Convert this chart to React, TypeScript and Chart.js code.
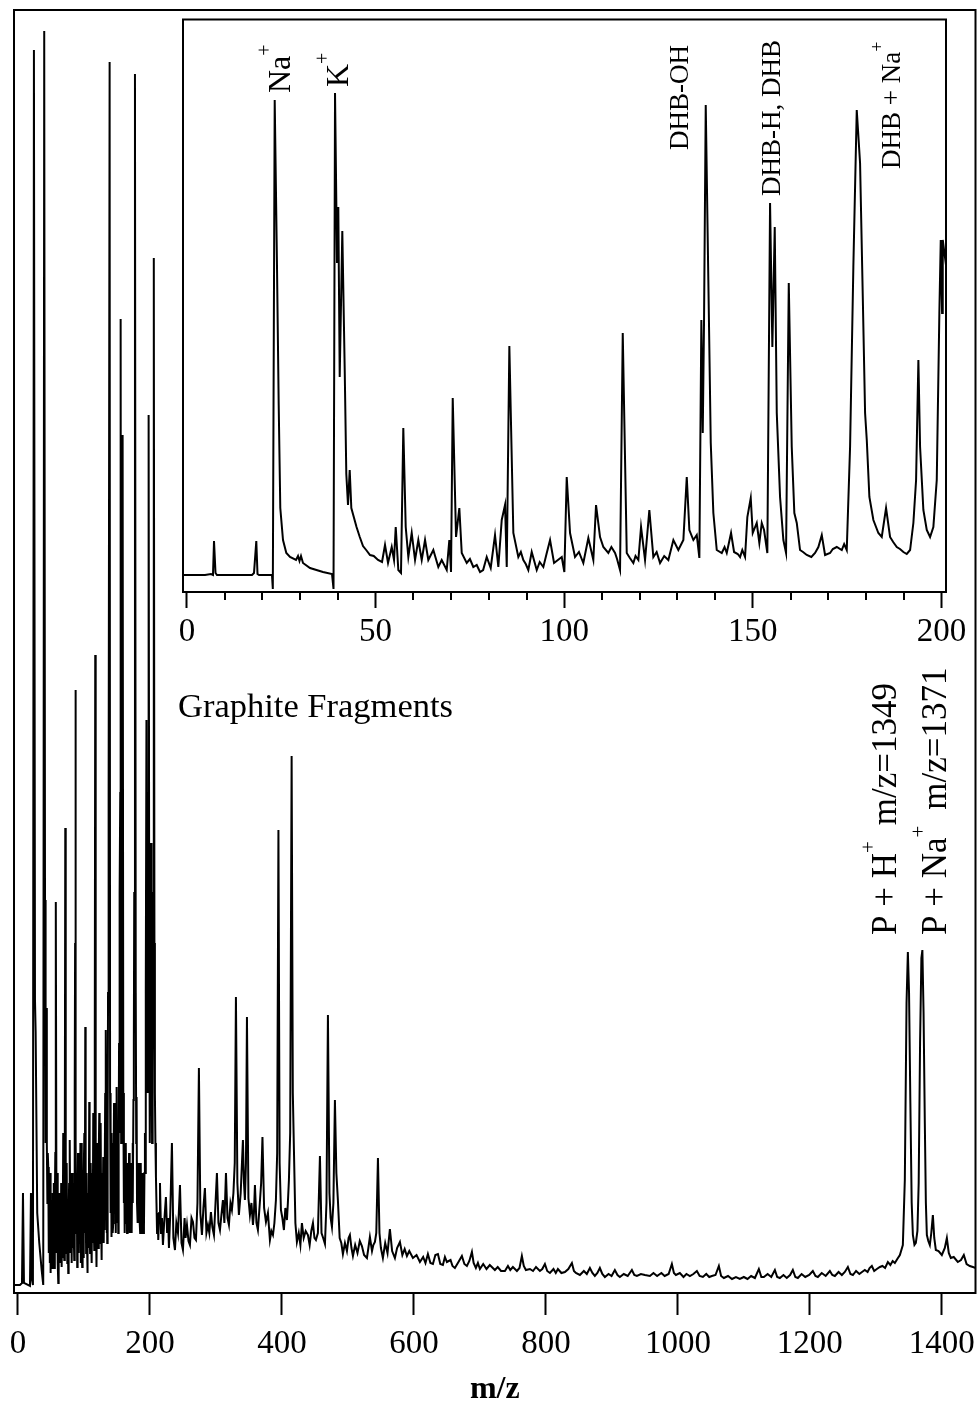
import React, { useEffect, useRef } from "react";
import { Chart, registerables } from "chart.js";

Chart.register(...registerables);

const SERIF = '"Liberation Serif", "Times New Roman", serif';

type Pt = [number, number]; // [m/z, intensity (a.u.)]

// ---------- Main spectrum ----------
const mainLowMass: Pt[] = [
  [-6, 8], [3.0, 8], [6.1, 10], [7.6, 100], [9.1, 10], [18.2, 7], [19.7, 100], [21.2, 13],
  [22.7, 8], [24.2, 1243], [25.8, 293], [26.8, 261], [29.2, 80], [32.3, 50], [35.9, 23],
  [38.3, 8], [39.8, 1262],
];
const mainMatrixRegion: Pt[] = [
  [41.0, 393], [41.6, 250], [42.2, 150], [42.8, 220], [43.5, 285], [44.0, 150], [44.6, 90],
  [45.2, 140], [45.9, 126], [46.4, 50], [47.0, 40], [47.6, 110], [48.1, 30], [48.5, 60],
  [49.0, 120], [49.5, 20], [50.1, 80], [50.6, 35], [51.1, 93], [51.7, 25], [52.3, 30],
  [52.9, 100], [53.5, 26], [54.0, 70], [54.6, 110], [55.1, 25], [55.6, 30], [56.1, 90],
  [56.6, 140], [57.1, 200], [57.6, 391], [58.2, 120], [58.8, 40], [59.4, 100], [60.0, 120],
  [60.5, 30], [61.1, 10], [61.7, 90], [62.3, 80], [62.9, 30], [63.6, 100], [64.2, 40],
  [64.8, 30], [65.5, 110], [66.2, 26], [66.8, 60], [67.4, 90], [68.0, 35], [68.6, 160],
  [69.4, 45], [70.2, 33], [71.0, 150], [71.7, 465], [72.2, 140], [72.6, 90], [73.0, 40],
  [73.5, 93], [74.1, 130], [74.8, 30], [75.5, 80], [76.2, 20], [76.8, 70], [77.5, 110],
  [78.1, 40], [78.8, 153], [79.4, 50], [80.1, 40], [80.7, 120], [81.4, 30], [82.0, 90],
  [82.6, 120], [83.2, 45], [83.8, 110], [84.5, 60], [85.3, 33], [85.8, 90], [86.2, 200],
  [86.6, 350], [87.1, 603], [87.7, 150], [88.4, 60], [89.1, 120], [89.8, 26], [90.4, 80],
  [91.0, 140], [91.7, 50], [92.3, 40], [93.1, 130], [93.9, 73], [94.6, 150], [95.3, 30],
  [95.8, 80], [96.4, 150], [96.9, 45], [97.3, 26], [97.8, 90], [98.2, 110], [98.8, 40],
  [99.3, 35], [100.0, 120], [100.6, 160], [101.3, 60], [102.0, 266], [102.6, 90], [103.3, 40],
  [103.8, 100], [104.3, 120], [104.7, 50], [105.1, 20], [105.8, 100], [106.5, 90], [107.2, 45],
  [108.0, 191], [108.6, 70], [109.3, 40], [109.9, 110], [110.5, 130], [111.1, 50], [111.7, 30],
  [112.4, 120], [113.0, 90], [113.6, 50], [114.1, 180], [114.8, 70], [115.6, 43], [116.4, 250],
  [117.1, 638], [117.8, 150], [118.4, 60], [118.8, 90], [119.2, 26], [119.9, 100], [120.5, 150],
  [121.2, 60], [121.8, 45], [122.5, 140], [123.2, 180], [123.8, 70], [124.4, 50], [125.0, 130],
  [125.6, 170], [126.2, 60], [126.8, 33], [127.4, 120], [128.0, 110], [128.6, 55], [129.2, 136],
  [129.7, 70], [130.2, 50], [130.7, 120], [131.1, 63], [131.7, 110], [132.2, 200], [132.8, 90],
  [133.3, 263], [133.9, 120], [134.4, 60], [134.9, 130], [135.3, 50], [135.9, 150], [136.5, 300],
  [137.4, 500], [138.9, 1231], [139.6, 200], [140.2, 80], [140.6, 120], [141.0, 160],
  [141.5, 70], [142.0, 56], [142.6, 130], [143.2, 150], [143.8, 60], [144.4, 70], [145.0, 140],
  [145.6, 190], [146.3, 80], [147.0, 113], [147.6, 150], [148.2, 60], [148.9, 130], [149.5, 206],
  [150.1, 90], [150.8, 70], [151.4, 140], [152.0, 60], [152.6, 150], [153.2, 250], [153.8, 160],
  [154.3, 400], [155.0, 500], [155.6, 974], [156.4, 150], [157.1, 293], [157.8, 200],
  [158.6, 858], [159.6, 200], [160.5, 90], [160.9, 150], [161.3, 140], [161.7, 80], [162.1, 60],
  [162.8, 120], [163.4, 150], [164.0, 70], [164.7, 116], [165.3, 60], [165.9, 70], [166.5, 130],
  [167.1, 66], [167.8, 110], [168.4, 140], [169.0, 80], [169.6, 60], [170.3, 130], [171.0, 120],
  [171.6, 70], [172.3, 60], [172.9, 110], [173.6, 150], [174.3, 90], [175.0, 193], [175.6, 250],
  [176.2, 400], [177.3, 1219], [178.5, 300], [179.2, 150], [179.8, 196], [180.4, 90],
  [181.0, 120], [181.7, 70], [182.3, 80], [183.0, 130], [183.8, 103], [184.5, 70], [185.2, 60],
  [185.8, 110], [186.3, 130], [186.9, 60], [187.4, 73], [188.2, 120], [189.0, 110], [190.0, 60],
  [190.9, 66], [191.7, 120], [192.4, 160], [193.0, 120], [193.7, 300], [194.7, 573], [195.6, 250],
  [196.2, 293], [196.7, 200], [197.2, 500], [198.0, 878], [199.0, 300], [199.5, 200],
  [200.0, 150], [200.8, 243], [201.3, 200], [201.7, 450], [202.2, 250], [202.6, 393],
  [203.2, 150], [203.8, 193], [204.4, 220], [205.0, 400], [205.6, 500], [206.1, 1035],
  [206.8, 350], [207.5, 200], [208.3, 150], [209.1, 116], [209.9, 90], [210.8, 60], [211.7, 80],
  [212.6, 53],
];
const mainFragmentRegion: Pt[] = [
  [214.0, 80], [215.2, 110], [216.8, 60], [218.2, 75], [219.7, 48], [221.5, 70], [224.2, 96],
  [226.0, 60], [227.4, 75], [228.8, 45], [230.8, 80], [233.3, 150], [235.5, 55], [237.9, 43],
  [240.0, 70], [242.5, 60], [245.5, 108], [247.8, 50], [250.0, 43], [252.5, 75], [254.0, 55],
  [256.1, 68], [258.4, 52], [260.6, 48], [263.0, 75], [265.2, 71], [267.5, 55], [269.7, 53],
  [272.0, 90], [274.2, 225], [276.4, 80], [278.8, 58], [281.0, 85], [283.3, 105], [285.6, 60],
  [287.9, 68], [290.0, 60], [292.4, 81], [294.6, 66], [297.0, 58], [299.0, 85], [301.5, 120],
  [303.8, 70], [306.1, 63], [308.3, 78], [310.6, 93], [312.8, 70], [315.2, 120], [317.5, 75],
  [319.7, 68], [322.0, 90], [324.2, 83], [326.5, 100], [328.5, 130], [330.3, 296], [332.5, 110],
  [334.8, 78], [337.5, 100], [340.9, 153], [342.5, 110], [343.9, 93], [345.5, 130], [347.0, 276],
  [349.2, 95], [351.5, 78], [353.8, 90], [356.1, 68], [357.6, 80], [359.1, 108], [361.4, 70],
  [363.6, 63], [366.5, 90], [368.5, 110], [370.5, 156], [373.0, 85], [375.8, 71], [378.8, 80],
  [381.8, 53], [384.0, 62], [386.4, 58], [388.6, 70], [390.9, 93], [392.8, 140], [394.7, 463],
  [396.5, 130], [398.5, 83], [400.7, 75], [403.0, 63], [405.2, 85], [407.6, 73], [409.0, 90],
  [410.6, 113], [412.5, 160], [414.7, 537], [416.5, 200], [418.2, 143], [420.4, 70], [422.7, 51],
  [425.5, 60], [428.0, 48], [430.3, 70], [433.0, 55], [436.0, 62], [439.4, 58], [442.0, 48],
  [444.5, 62], [447.0, 70], [449.3, 55], [451.5, 53], [454.5, 60], [457.6, 137], [460.0, 60],
  [462.5, 55], [465.2, 49], [467.5, 90], [469.7, 278], [472.0, 100], [473.8, 75], [475.8, 66],
  [478.0, 90], [480.3, 193], [482.5, 120], [484.8, 93], [487.5, 55], [490.0, 50], [492.4, 39],
  [495.5, 50], [498.5, 42], [501.0, 55], [503.0, 58], [505.4, 45], [507.6, 37], [511.0, 48],
  [514.5, 40], [518.0, 52], [521.2, 47], [524.5, 38], [528.8, 35], [531.0, 45], [533.3, 56],
  [536.5, 42], [538.5, 48], [540.9, 51], [543.0, 60], [545.5, 135], [547.8, 60], [550.0, 45],
  [553.0, 35], [556.5, 50], [560.0, 40], [563.6, 64], [567.0, 42], [571.2, 35], [574.5, 45],
  [578.8, 51], [582.5, 38], [586.0, 44], [589.4, 37], [593.0, 42], [598.5, 35],
];
const mainTail: Pt[] = [
  [604.0, 38], [609.1, 31], [614.0, 36], [617.5, 30], [621.2, 39], [625.0, 30], [628.8, 29],
  [632.5, 38], [636.4, 39], [640.0, 29], [643.9, 28], [647.0, 36], [650.0, 31], [655.5, 33],
  [658.5, 27], [662.1, 25], [667.5, 31], [672.7, 37], [676.5, 29], [680.3, 27], [684.0, 32],
  [687.9, 41], [690.5, 30], [693.9, 25], [697.0, 30], [700.0, 24], [705.0, 29], [710.0, 24],
  [715.0, 28], [722.7, 23], [727.0, 26], [732.0, 22], [737.9, 22], [742.5, 27], [746.0, 23],
  [750.0, 26], [756.1, 22], [760.0, 25], [763.6, 37], [766.5, 27], [769.7, 23], [775.8, 24],
  [780.5, 22], [785.0, 26], [790.9, 22], [794.5, 24], [798.5, 29], [802.0, 22], [806.1, 20],
  [811.5, 24], [815.0, 20], [818.2, 24], [823.5, 20], [828.8, 21], [834.0, 24], [839.4, 30],
  [842.5, 22], [845.5, 20], [851.5, 18], [857.5, 22], [862.0, 19], [866.7, 25], [870.5, 20],
  [874.2, 17], [878.0, 20], [881.8, 25], [885.5, 19], [889.4, 16], [895.0, 19], [899.5, 17],
  [904.5, 23], [908.5, 18], [912.1, 16], [918.0, 19], [924.0, 17], [930.3, 23], [934.0, 18],
  [937.9, 17], [944.0, 19], [950.0, 18], [957.6, 17], [963.0, 20], [968.5, 17], [975.0, 20],
  [980.0, 17], [986.0, 19], [990.9, 29], [994.0, 20], [997.0, 18], [1003.0, 20], [1008.5, 16],
  [1013.0, 19], [1018.2, 17], [1023.5, 19], [1028.8, 22], [1033.0, 17], [1037.9, 16],
  [1043.0, 19], [1047.5, 16], [1051.5, 17], [1057.0, 18], [1062.1, 27], [1065.5, 17],
  [1069.7, 15], [1076.0, 17], [1082.0, 14], [1088.0, 16], [1093.9, 14], [1100.0, 16],
  [1105.5, 14], [1111.0, 17], [1116.7, 15], [1122.7, 24], [1126.5, 16], [1130.3, 16],
  [1136.0, 19], [1141.5, 16], [1147.0, 23], [1150.5, 16], [1154.5, 15], [1160.0, 18],
  [1165.0, 15], [1170.0, 18], [1174.2, 23], [1178.0, 16], [1181.8, 15], [1187.5, 19],
  [1193.0, 16], [1199.0, 18], [1204.5, 22], [1208.5, 17], [1212.1, 16], [1218.0, 20],
  [1224.0, 17], [1230.3, 22], [1234.0, 18], [1237.9, 17], [1243.5, 21], [1248.5, 18],
  [1253.0, 21], [1257.6, 26], [1261.5, 19], [1265.2, 18], [1270.0, 22], [1275.0, 19],
  [1279.0, 21], [1283.3, 23], [1287.5, 21], [1290.5, 25], [1293.9, 27], [1297.5, 22],
  [1301.5, 24], [1306.1, 26], [1310.0, 27], [1314.0, 25], [1318.2, 31], [1322.0, 28],
  [1325.5, 32], [1328.8, 30], [1332.5, 34], [1336.4, 38],
];
const mainMolecularIon: Pt[] = [
  [1340.9, 48], [1343.9, 113], [1346.5, 290], [1348.5, 341], [1350.3, 300], [1352.3, 190],
  [1354.3, 90], [1356.1, 58], [1358.5, 48], [1360.6, 50], [1363.0, 62], [1364.9, 110],
  [1367.0, 250], [1369.0, 335], [1370.5, 343], [1372.3, 280], [1374.2, 170], [1375.8, 90],
  [1377.3, 58], [1379.5, 52], [1381.8, 48], [1384.0, 60], [1386.4, 78], [1388.5, 55],
  [1390.9, 43], [1395.0, 42], [1400.0, 38], [1404.5, 45], [1407.6, 55], [1410.5, 40],
  [1413.6, 35], [1418.0, 36], [1424.2, 31], [1429.0, 33], [1433.3, 38], [1437.5, 29],
  [1442.4, 27], [1447.0, 26], [1451.5, 25],
];
const mainTickValues = [0, 200, 400, 600, 800, 1000, 1200, 1400];

// ---------- Inset spectrum, m/z 0-200 ----------
const insetAlkali: Pt[] = [
  [-1.5, 17], [4.77, 17], [6.36, 18], [6.89, 17], [7.16, 51], [7.56, 19], [7.95, 17],
  [17.23, 17], [17.76, 19], [18.37, 51], [18.69, 18], [19.09, 17], [22.53, 17], [22.75, 3],
  [23.25, 492], [23.86, 325], [24.31, 187], [24.73, 84], [25.45, 52], [26.33, 39], [27.31, 35],
  [28.9, 32], [29.43, 36], [29.82, 31], [30.22, 36], [30.75, 29], [32.61, 24], [36.05, 20],
  [38.44, 18], [38.84, 3], [39.24, 499], [39.77, 329], [40.11, 385], [40.48, 215], [41.17, 361],
  [41.81, 222], [42.23, 118], [42.68, 87], [43.13, 122], [43.56, 84], [44.94, 65], [45.8, 55],
  [46.66, 46], [47.5, 42], [48.52, 37], [49.5, 36], [50.64, 32], [51.7, 30], [52.49, 47],
  [53.29, 29], [54.27, 45], [54.88, 32], [55.33, 65], [56.02, 22], [56.73, 19],
];
const insetFragments: Pt[] = [
  [57.34, 164], [57.98, 65], [58.67, 35], [59.57, 59], [60.45, 32], [61.32, 52], [62.22, 32],
  [63.1, 52], [63.97, 32], [65.3, 42], [66.62, 25], [67.52, 32], [68.85, 22], [69.54, 52],
  [69.99, 20], [70.44, 194], [71.32, 55], [72.19, 84], [72.83, 39], [74.15, 29], [75.0, 33],
  [75.9, 25], [76.8, 27], [77.68, 20], [78.5, 22], [79.45, 35], [80.51, 24], [81.65, 57],
  [82.53, 25], [83.43, 72], [84.31, 87], [84.76, 25], [85.45, 246], [86.51, 59], [87.83, 35],
  [88.5, 40], [89.16, 32], [89.8, 28], [90.48, 22], [91.38, 40], [92.71, 22], [93.5, 30],
  [94.46, 25], [95.3, 38], [96.24, 52], [97.3, 29], [99.34, 35], [100.03, 20], [100.66, 115],
  [101.54, 59], [102.86, 35], [103.9, 40], [105.06, 29], [106.39, 54], [107.71, 32],
  [108.43, 87], [109.49, 55], [110.37, 45], [111.69, 39], [112.5, 45], [113.47, 39],
  [114.0, 33], [114.79, 22], [115.51, 259], [116.57, 39], [117.4, 34], [118.32, 29],
  [118.9, 36], [119.65, 32], [120.36, 65], [121.42, 32], [122.56, 82], [123.62, 35],
  [124.5, 40], [125.4, 29], [126.5, 36], [127.6, 32], [128.93, 52], [130.25, 42], [131.58, 52],
  [132.48, 115], [133.17, 62], [134.23, 52], [135.13, 57], [135.82, 34],
];
const insetMatrix: Pt[] = [
  [136.35, 272], [136.72, 159], [137.06, 272], [137.51, 487], [138.2, 312], [138.84, 149],
  [139.53, 79], [140.43, 42], [141.76, 39], [142.5, 45], [143.08, 39], [144.22, 59],
  [145.02, 40], [146.0, 38], [146.61, 35], [147.2, 42], [147.93, 35], [148.54, 75],
  [149.44, 94], [149.97, 59], [151.03, 69], [151.72, 49], [152.36, 69], [152.97, 62],
  [153.84, 39], [154.56, 389], [155.17, 245], [155.8, 365], [156.34, 179], [157.21, 95],
  [158.09, 52], [158.8, 39], [159.52, 309], [160.31, 145], [161.0, 79], [161.64, 69],
  [162.51, 42], [163.3, 40], [164.29, 37], [165.5, 35], [166.49, 39], [167.37, 45],
  [168.27, 57], [169.14, 37], [170.47, 39], [171.2, 43], [172.24, 45], [173.57, 42],
  [174.2, 48], [174.89, 42], [175.77, 145], [176.64, 325], [177.54, 482], [178.42, 429],
  [179.14, 295], [179.75, 179], [180.2, 152], [180.89, 95], [181.95, 72], [183.27, 59],
  [184.17, 55], [185.31, 84], [186.37, 55], [187.2, 50], [188.15, 45], [189.0, 43],
  [189.9, 40], [190.8, 38], [191.68, 42], [192.55, 69], [193.27, 112], [193.88, 232],
  [194.33, 145], [195.2, 82], [196.1, 62], [196.98, 55], [197.85, 65], [198.75, 112],
  [199.44, 279], [199.81, 352], [200.16, 279], [200.34, 352], [201.2, 327],
];
const insetMajorTicks = [0, 50, 100, 150, 200];
const insetMinorTicks = [10, 20, 30, 40, 60, 70, 80, 90, 110, 120, 130, 140, 160, 170, 180, 190];

type Part = { text: string; size: number; rise?: number; gap?: number };

function drawVertical(ctx: CanvasRenderingContext2D, x: number, y: number, parts: Part[]) {
  ctx.save();
  ctx.translate(x, y);
  ctx.rotate(-Math.PI / 2);
  ctx.textBaseline = "alphabetic";
  ctx.textAlign = "left";
  let cx = 0;
  for (const p of parts) {
    ctx.font = `${p.size}px ${SERIF}`;
    ctx.fillText(p.text, cx, -(p.rise || 0));
    cx += ctx.measureText(p.text).width + (p.gap || 0);
  }
  ctx.restore();
}

const INSET_LEFT = 170;
const INSET_TOP = 10;

function toXY(parts: Pt[][]) {
  return parts.flat().map(([x, y]) => ({ x, y }));
}

export default function App() {
  const mainRef = useRef<HTMLCanvasElement>(null);
  const insetRef = useRef<HTMLCanvasElement>(null);

  useEffect(() => {
    const framePlugin = {
      id: "frame",
      beforeDraw(chart: any) {
        const a = chart.chartArea;
        const ctx = chart.ctx;
        ctx.save();
        ctx.fillStyle = "#fff";
        ctx.fillRect(a.left, a.top, a.right - a.left, a.bottom - a.top);
        ctx.restore();
      },
      afterDraw(chart: any) {
        const a = chart.chartArea;
        const ctx = chart.ctx;
        ctx.save();
        ctx.strokeStyle = "#000";
        ctx.lineWidth = 2;
        ctx.strokeRect(a.left, a.top, a.right - a.left, a.bottom - a.top);
        ctx.restore();
      },
    };

    const mainText = {
      id: "mainText",
      afterDraw(chart: any) {
        const ctx = chart.ctx as CanvasRenderingContext2D;
        ctx.save();
        ctx.fillStyle = "#000";
        ctx.font = `34.5px ${SERIF}`;
        ctx.textBaseline = "alphabetic";
        ctx.fillText("Graphite Fragments", 178, 717);
        drawVertical(ctx, 896, 935, [
          { text: "P + H", size: 35 },
          { text: "+", size: 21, rise: 21, gap: 16 },
          { text: "m/z=1349", size: 35 },
        ]);
        drawVertical(ctx, 946, 935, [
          { text: "P + Na", size: 35 },
          { text: "+", size: 21, rise: 21, gap: 16 },
          { text: "m/z=1371", size: 35 },
        ]);
        ctx.restore();
      },
    };

    const insetExtras = {
      id: "insetExtras",
      afterDraw(chart: any) {
        const ctx = chart.ctx as CanvasRenderingContext2D;
        const a = chart.chartArea;
        const xs = chart.scales.x;
        ctx.save();
        ctx.strokeStyle = "#000";
        ctx.lineWidth = 2;
        ctx.beginPath();
        for (const v of insetMinorTicks) {
          const px = Math.round(xs.getPixelForValue(v));
          ctx.moveTo(px, a.bottom);
          ctx.lineTo(px, a.bottom + 8);
        }
        ctx.stroke();
        ctx.fillStyle = "#000";
        const ox = INSET_LEFT;
        const oy = INSET_TOP;
        drawVertical(ctx, 290 - ox, 93 - oy, [
          { text: "Na", size: 32 },
          { text: "+", size: 20, rise: 19 },
        ]);
        drawVertical(ctx, 348 - ox, 87 - oy, [
          { text: "K", size: 32 },
          { text: "+", size: 20, rise: 19 },
        ]);
        drawVertical(ctx, 688 - ox, 150 - oy, [{ text: "DHB-OH", size: 27 }]);
        drawVertical(ctx, 780 - ox, 196 - oy, [{ text: "DHB-H, DHB", size: 27 }]);
        drawVertical(ctx, 900 - ox, 169 - oy, [
          { text: "DHB + Na", size: 27 },
          { text: "+", size: 18, rise: 17 },
        ]);
        ctx.restore();
      },
    };

    const main = new Chart(mainRef.current as HTMLCanvasElement, {
      type: "line",
      data: {
        datasets: [
          {
            data: toXY([mainLowMass, mainMatrixRegion, mainFragmentRegion, mainTail, mainMolecularIon]),
            borderColor: "#000",
            borderWidth: 2,
            pointRadius: 0,
            tension: 0,
            fill: false,
          },
        ],
      },
      options: {
        responsive: false,
        animation: false,
        events: [],
        layout: { padding: { left: 14, top: 10, right: 2.5, bottom: 0 } },
        plugins: { legend: { display: false }, tooltip: { enabled: false } },
        scales: {
          x: {
            type: "linear",
            position: "bottom",
            min: -6,
            max: 1451,
            afterFit: (s: any) => {
              s.height = 114;
              s.paddingLeft = 0;
              s.paddingRight = 0;
            },
            afterBuildTicks: (s: any) => {
              s.ticks = mainTickValues.map((v) => ({ value: v }));
            },
            ticks: {
              autoSkip: false,
              maxRotation: 0,
              minRotation: 0,
              padding: 10,
              color: "#000",
              font: { family: SERIF, size: 33 },
              callback: (v: any) => String(v),
            },
            grid: {
              display: true,
              drawOnChartArea: false,
              drawTicks: true,
              tickLength: 22,
              tickWidth: 2,
              tickColor: "#000",
            },
            border: { display: false },
            title: {
              display: true,
              text: "m/z",
              color: "#000",
              font: { family: SERIF, size: 32, weight: "bold" },
              padding: { top: 0, bottom: -2 },
            },
          },
          y: { type: "linear", min: 0, max: 1283, display: false },
        },
      } as any,
      plugins: [framePlugin, mainText],
    });

    const inset = new Chart(insetRef.current as HTMLCanvasElement, {
      type: "line",
      data: {
        datasets: [
          {
            data: toXY([insetAlkali, insetFragments, insetMatrix]),
            borderColor: "#000",
            borderWidth: 2,
            pointRadius: 0,
            tension: 0,
            fill: false,
          },
        ],
      },
      options: {
        responsive: false,
        animation: false,
        events: [],
        layout: { padding: { left: 13, top: 9.5, right: 24, bottom: 0 } },
        plugins: { legend: { display: false }, tooltip: { enabled: false } },
        scales: {
          x: {
            type: "linear",
            position: "bottom",
            min: -1.06,
            max: 201.2,
            afterFit: (s: any) => {
              s.height = 73;
              s.paddingLeft = 0;
              s.paddingRight = 0;
            },
            afterBuildTicks: (s: any) => {
              s.ticks = insetMajorTicks.map((v) => ({ value: v }));
            },
            ticks: {
              autoSkip: false,
              maxRotation: 0,
              minRotation: 0,
              padding: 5,
              color: "#000",
              font: { family: SERIF, size: 33 },
              callback: (v: any) => String(v),
            },
            grid: {
              display: true,
              drawOnChartArea: false,
              drawTicks: true,
              tickLength: 16,
              tickWidth: 2,
              tickColor: "#000",
            },
            border: { display: false },
          },
          y: { type: "linear", min: 0, max: 572.5, display: false },
        },
      } as any,
      plugins: [framePlugin, insetExtras],
    });

    return () => {
      main.destroy();
      inset.destroy();
    };
  }, []);

  return (
    <div
      style={{
        position: "absolute",
        left: 0,
        top: 0,
        width: 978,
        height: 1407,
        background: "#fff",
        overflow: "hidden",
      }}
    >
      <canvas ref={mainRef} width={978} height={1407} style={{ position: "absolute", left: 0, top: 0 }} />
      <canvas
        ref={insetRef}
        width={800}
        height={655}
        style={{ position: "absolute", left: INSET_LEFT, top: INSET_TOP }}
      />
    </div>
  );
}
